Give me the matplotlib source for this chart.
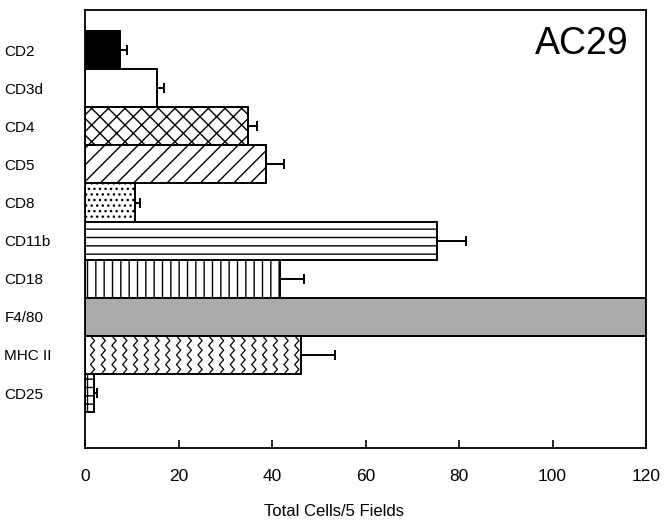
import matplotlib
matplotlib.use('Agg')
import matplotlib.pyplot as plt
import numpy as np

plt.rcParams['font.family'] = ['Liberation Sans', 'DejaVu Sans']
plt.rcParams['hatch.linewidth'] = 1.0
plt.rcParams['hatch.color'] = 'black'

markers = ['CD2', 'CD3d', 'CD4', 'CD5', 'CD8', 'CD11b', 'CD18', 'F4/80', 'MHC II', 'CD25']
values = [7.5, 15.4, 34.8, 38.7, 10.7, 75.3, 41.8, 120, 46.3, 2.0]
errors = [1.5, 1.4, 2.0, 3.8, 1.0, 6.3, 5.0, 0.0, 7.1, 0.5]
x_ticks = [0, 20, 40, 60, 80, 100, 120]
panel_label = 'AC29'
x_label = 'Total Cells/5 Fields'

fills = ['black', 'white', 'white', 'white', 'white', 'white', 'white', '#ababab', 'white', 'white']
hatches = [None, None, 'xx', '//', '...', '--', '||', None, None, '++']

fig = plt.figure(figsize=(6.71, 5.28), dpi=100)
ax = fig.add_axes([85/671, 1-448/528, (646-85)/671, (448-10)/528])

y = np.arange(len(markers))
bars = ax.barh(y, values, height=1.0, color=fills, edgecolor='black', linewidth=1.4, zorder=2)
for b, h in zip(bars, hatches):
    if h:
        b.set_hatch(h)

# wavy texture for MHC II
mhc = bars[markers.index('MHC II')]
x0, y0, w, h = mhc.get_x(), mhc.get_y(), mhc.get_width(), mhc.get_height()
dx = 2.3
nseg = 8
ys = y0 + np.linspace(0, h, nseg + 1)
offs = np.array([0.45 if k % 2 else -0.45 for k in range(nseg + 1)])
cx = x0 + dx * 0.7
while cx < x0 + w:
    ln, = ax.plot(cx + offs, ys, color='black', lw=0.9, zorder=3)
    ln.set_clip_path(mhc)
    cx += dx

# error bars (right side only)
err = np.array(errors)
vals = np.array(values)
m = err > 0
ax.errorbar(vals[m], y[m], xerr=[np.zeros(m.sum()), err[m]], fmt='none',
            ecolor='black', elinewidth=1.4, capsize=3.5, capthick=1.4, zorder=4)

ax.set_xlim(0, 120)
ax.set_ylim(10.44, -1.05)
ax.set_xticks(x_ticks)
ax.set_xticklabels([str(t) for t in x_ticks], fontsize=12.5)
ax.tick_params(axis='x', direction='in', length=6, width=1.2, pad=15)
ax.set_yticks(y)
ax.set_yticklabels(markers, fontsize=11)
ax.tick_params(axis='y', length=0, pad=58)
for lab in ax.get_yticklabels():
    lab.set_horizontalalignment('left')

for s in ax.spines.values():
    s.set_linewidth(1.3)

ax.set_xlabel(x_label, fontsize=12)
ax.xaxis.set_label_coords((334-85)/(646-85), -(512-448)/(448-10), transform=ax.transAxes)
ax.xaxis.label.set_verticalalignment('center')

ax.text((582-85)/(646-85), 1-(44-10)/(448-10), panel_label, transform=ax.transAxes,
        fontsize=27, ha='center', va='center')

fig.savefig('out.png', dpi=100)
